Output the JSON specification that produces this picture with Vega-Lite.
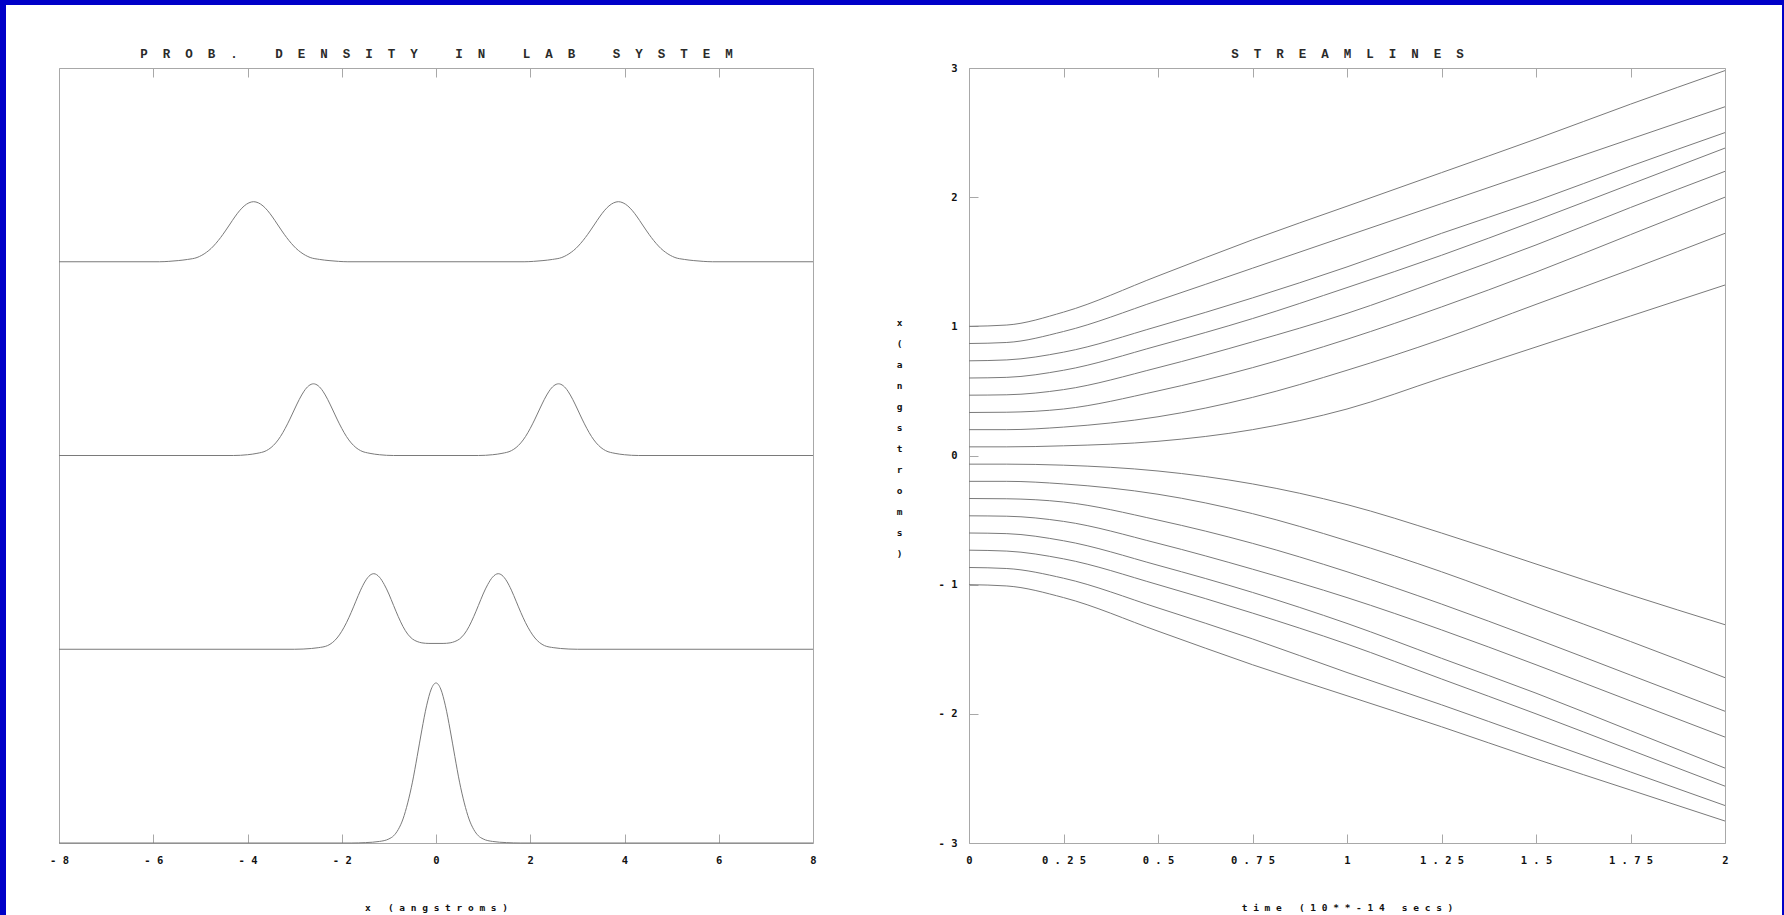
{
  "$schema": "https://vega.github.io/schema/vega-lite/v6.json",
  "width": 1776,
  "height": 910,
  "autosize": {"type": "none"},
  "padding": {"left": 6, "top": 5, "right": 2, "bottom": 0},
  "background": "#0000C8",
  "config": {
    "view": {"fill": "white", "stroke": null},
    "axis": {
      "grid": false,
      "domainColor": "#a8a8a8",
      "tickColor": "#a8a8a8",
      "tickSize": -9,
      "labelFont": "DejaVu Sans Mono",
      "labelFontSize": 10.5,
      "labelFontWeight": "bold",
      "labelColor": "#111111",
      "titleFont": "DejaVu Sans Mono",
      "titleFontSize": 9.5,
      "titleFontWeight": "bold",
      "titleColor": "#111111",
      "labelFlush": false,
      "labelOverlap": false,
      "labelBound": false
    }
  },
  "datasets": {
    "dens": [
      {"c": "A", "x": [-8,-1.8,-1.5,-1.2,-1.0,-0.9,-0.8,-0.7,-0.6,-0.5,-0.4,-0.3,-0.2,-0.1,0,0.1,0.2,0.3,0.4,0.5,0.6,0.7,0.8,0.9,1.0,1.2,1.5,1.8,8],
                 "y": [0,0,0.002,0.008,0.021,0.037,0.07,0.124,0.207,0.314,0.446,0.584,0.708,0.795,0.826,0.795,0.708,0.584,0.446,0.314,0.207,0.124,0.07,0.037,0.021,0.008,0.002,0,0]},
      {"c": "B", "x": [-8,-3.0,-2.64,-2.5,-2.3,-2.1,-1.9,-1.8,-1.7,-1.6,-1.5,-1.4,-1.32,-1.2,-1.1,-1.0,-0.9,-0.8,-0.7,-0.6,-0.5,-0.4,-0.3,-0.15,0,0.15,0.3,0.4,0.5,0.6,0.7,0.8,0.9,1.0,1.1,1.2,1.32,1.4,1.5,1.6,1.7,1.8,1.9,2.1,2.3,2.5,2.64,3.0,8],
                 "y": [1,1,1.004,1.008,1.019,1.058,1.137,1.19,1.248,1.305,1.352,1.382,1.39,1.372,1.335,1.285,1.226,1.168,1.117,1.078,1.053,1.04,1.033,1.03,1.03,1.03,1.033,1.04,1.053,1.078,1.117,1.168,1.226,1.285,1.335,1.372,1.39,1.382,1.352,1.305,1.248,1.19,1.137,1.058,1.019,1.008,1.004,1,1]},
      {"c": "C", "x": [-8,-4.3,-4.0,-3.8,-3.6,-3.5,-3.4,-3.3,-3.2,-3.1,-3.0,-2.9,-2.8,-2.7,-2.6,-2.5,-2.4,-2.3,-2.2,-2.1,-2.0,-1.9,-1.8,-1.7,-1.6,-1.4,-1.2,-0.9,0.9,1.2,1.4,1.6,1.7,1.8,1.9,2.0,2.1,2.2,2.3,2.4,2.5,2.6,2.7,2.8,2.9,3.0,3.1,3.2,3.3,3.4,3.5,3.6,3.8,4.0,4.3,8],
                 "y": [2,2,2.004,2.011,2.025,2.041,2.065,2.098,2.14,2.188,2.24,2.29,2.332,2.36,2.37,2.36,2.332,2.29,2.24,2.188,2.14,2.098,2.065,2.041,2.025,2.011,2.004,2,2,2.004,2.011,2.025,2.041,2.065,2.098,2.14,2.188,2.24,2.29,2.332,2.36,2.37,2.36,2.332,2.29,2.24,2.188,2.14,2.098,2.065,2.041,2.025,2.011,2.004,2,2]},
      {"c": "D", "x": [-8,-5.87,-5.67,-5.47,-5.27,-5.07,-4.87,-4.77,-4.67,-4.57,-4.47,-4.37,-4.27,-4.17,-4.07,-3.97,-3.87,-3.77,-3.67,-3.57,-3.47,-3.37,-3.27,-3.17,-3.07,-2.97,-2.87,-2.67,-2.47,-2.27,-2.07,-1.87,1.87,2.07,2.27,2.47,2.67,2.87,2.97,3.07,3.17,3.27,3.37,3.47,3.57,3.67,3.77,3.87,3.97,4.07,4.17,4.27,4.37,4.47,4.57,4.67,4.77,4.87,5.07,5.27,5.47,5.67,5.87,8],
                 "y": [3,3,3.002,3.006,3.012,3.022,3.049,3.069,3.095,3.125,3.159,3.195,3.231,3.263,3.288,3.304,3.31,3.304,3.288,3.263,3.231,3.195,3.159,3.125,3.095,3.069,3.049,3.022,3.012,3.006,3.002,3,3,3.002,3.006,3.012,3.022,3.049,3.069,3.095,3.125,3.159,3.195,3.231,3.263,3.288,3.304,3.31,3.304,3.288,3.263,3.231,3.195,3.159,3.125,3.095,3.069,3.049,3.022,3.012,3.006,3.002,3,3]}
    ],
    "stream": [
      {"l": "U1", "t": [0,0.1,0.25,0.5,0.75,1,1.25,1.5,1.75,2], "x": [1.0,1.01,1.11,1.39,1.67,1.93,2.19,2.45,2.72,2.98]},
      {"l": "U2", "t": [0,0.1,0.25,0.5,0.75,1,1.25,1.5,1.75,2], "x": [0.867,0.875,0.96,1.2,1.45,1.7,1.95,2.2,2.45,2.7]},
      {"l": "U3", "t": [0,0.1,0.25,0.5,0.75,1,1.25,1.5,1.75,2], "x": [0.733,0.74,0.8,1.0,1.22,1.46,1.72,1.97,2.24,2.5]},
      {"l": "U4", "t": [0,0.1,0.25,0.5,0.75,1,1.25,1.5,1.75,2], "x": [0.6,0.605,0.66,0.85,1.06,1.3,1.55,1.82,2.1,2.38]},
      {"l": "U5", "t": [0,0.1,0.25,0.5,0.75,1,1.25,1.5,1.75,2], "x": [0.467,0.47,0.51,0.68,0.88,1.1,1.36,1.63,1.92,2.2]},
      {"l": "U6", "t": [0,0.1,0.25,0.5,0.75,1,1.25,1.5,1.75,2], "x": [0.333,0.335,0.36,0.5,0.68,0.9,1.15,1.42,1.71,2.0]},
      {"l": "U7", "t": [0,0.1,0.25,0.5,0.75,1,1.25,1.5,1.75,2], "x": [0.2,0.2,0.22,0.3,0.45,0.66,0.9,1.17,1.44,1.72]},
      {"l": "U8", "t": [0,0.1,0.25,0.5,0.75,1,1.25,1.5,1.75,2], "x": [0.067,0.067,0.075,0.11,0.2,0.36,0.6,0.84,1.08,1.32]},
      {"l": "B1", "t": [0,0.1,0.25,0.5,0.75,1,1.25,1.5,1.75,2], "x": [-0.067,-0.067,-0.075,-0.12,-0.22,-0.38,-0.6,-0.84,-1.08,-1.31]},
      {"l": "B2", "t": [0,0.1,0.25,0.5,0.75,1,1.25,1.5,1.75,2], "x": [-0.2,-0.2,-0.22,-0.3,-0.45,-0.66,-0.9,-1.17,-1.44,-1.72]},
      {"l": "B3", "t": [0,0.1,0.25,0.5,0.75,1,1.25,1.5,1.75,2], "x": [-0.333,-0.335,-0.36,-0.5,-0.68,-0.9,-1.15,-1.42,-1.70,-1.98]},
      {"l": "B4", "t": [0,0.1,0.25,0.5,0.75,1,1.25,1.5,1.75,2], "x": [-0.467,-0.47,-0.51,-0.68,-0.88,-1.1,-1.35,-1.62,-1.90,-2.18]},
      {"l": "B5", "t": [0,0.1,0.25,0.5,0.75,1,1.25,1.5,1.75,2], "x": [-0.6,-0.605,-0.66,-0.85,-1.06,-1.3,-1.57,-1.84,-2.13,-2.42]},
      {"l": "B6", "t": [0,0.1,0.25,0.5,0.75,1,1.25,1.5,1.75,2], "x": [-0.733,-0.74,-0.8,-1.0,-1.22,-1.46,-1.73,-2.0,-2.28,-2.56]},
      {"l": "B7", "t": [0,0.1,0.25,0.5,0.75,1,1.25,1.5,1.75,2], "x": [-0.867,-0.875,-0.95,-1.18,-1.42,-1.68,-1.93,-2.19,-2.45,-2.71]},
      {"l": "B8", "t": [0,0.1,0.25,0.5,0.75,1,1.25,1.5,1.75,2], "x": [-1.0,-1.01,-1.1,-1.36,-1.62,-1.86,-2.1,-2.35,-2.59,-2.83]}
    ],
    "dummy": [{"a": 0, "b": 0}]
  },
  "layer": [
    {
      "data": {"name": "dens"},
      "transform": [{"flatten": ["x", "y"]}],
      "mark": {"type": "line", "color": "#7a7a7a", "strokeWidth": 1, "interpolate": "monotone"},
      "encoding": {
        "x": {"field": "x", "type": "quantitative",
              "scale": {"domain": [-8, 8], "range": [53, 807], "nice": false, "zero": false},
              "axis": {"orient": "bottom", "offset": -72, "values": [-8,-6,-4,-2,0,2,4,6,8],
                       "labelExpr": "join(split(toString(datum.value), ''), ' ')", "labelPadding": 26, "labelBaseline": "middle",
                       "title": "x\u00a0\u00a0\u00a0(\u00a0a\u00a0n\u00a0g\u00a0s\u00a0t\u00a0r\u00a0o\u00a0m\u00a0s\u00a0)",
                       "titleY": 64, "titleBaseline": "middle"}},
        "y": {"field": "y", "type": "quantitative",
              "scale": {"domain": [0, 4], "range": [838, 63], "nice": false, "zero": false},
              "axis": {"orient": "left", "offset": -53, "ticks": false, "labels": false, "title": null}},
        "detail": {"field": "c"}
      }
    },
    {
      "data": {"name": "dummy"},
      "mark": {"type": "point", "opacity": 0},
      "encoding": {
        "x": {"field": "a", "type": "quantitative",
              "scale": {"domain": [-8, 8], "range": [53, 807], "nice": false, "zero": false},
              "axis": {"orient": "top", "offset": -63, "values": [-8,-6,-4,-2,0,2,4,6,8], "labels": false,
                       "title": "P\u00a0\u00a0R\u00a0\u00a0O\u00a0\u00a0B\u00a0\u00a0.\u00a0\u00a0\u00a0\u00a0\u00a0D\u00a0\u00a0E\u00a0\u00a0N\u00a0\u00a0S\u00a0\u00a0I\u00a0\u00a0T\u00a0\u00a0Y\u00a0\u00a0\u00a0\u00a0\u00a0I\u00a0\u00a0N\u00a0\u00a0\u00a0\u00a0\u00a0L\u00a0\u00a0A\u00a0\u00a0B\u00a0\u00a0\u00a0\u00a0\u00a0S\u00a0\u00a0Y\u00a0\u00a0S\u00a0\u00a0T\u00a0\u00a0E\u00a0\u00a0M",
                       "titleFont": "Liberation Mono", "titleFontSize": 12.5, "titleFontWeight": "bold", "titleColor": "#2a2a2a",
                       "titleY": -14.5, "titleBaseline": "middle"}},
        "y": {"field": "b", "type": "quantitative",
              "scale": {"domain": [0, 4], "range": [838, 63], "nice": false, "zero": false},
              "axis": {"orient": "right", "offset": -969, "ticks": false, "labels": false, "title": null}}
      }
    },
    {
      "data": {"name": "stream"},
      "transform": [{"flatten": ["t", "x"]}],
      "mark": {"type": "line", "color": "#7a7a7a", "strokeWidth": 1, "interpolate": "monotone"},
      "encoding": {
        "x": {"field": "t", "type": "quantitative",
              "scale": {"domain": [0, 2], "range": [963, 1719], "nice": false, "zero": false},
              "axis": {"orient": "bottom", "offset": -72, "values": [0,0.25,0.5,0.75,1,1.25,1.5,1.75,2],
                       "labelExpr": "join(split(toString(datum.value), ''), ' ')", "labelPadding": 26, "labelBaseline": "middle",
                       "title": "t\u00a0i\u00a0m\u00a0e\u00a0\u00a0\u00a0(\u00a01\u00a00\u00a0*\u00a0*\u00a0-\u00a01\u00a04\u00a0\u00a0\u00a0s\u00a0e\u00a0c\u00a0s\u00a0)",
                       "titleY": 64, "titleBaseline": "middle"}},
        "y": {"field": "x", "type": "quantitative",
              "scale": {"domain": [-3, 3], "range": [838, 63], "nice": false, "zero": false},
              "axis": {"orient": "left", "offset": -963, "values": [-3,-2,-1,0,1,2,3],
                       "labelExpr": "join(split(toString(datum.value), ''), ' ')", "labelPadding": 21, "labelBaseline": "middle",
                       "title": ["x", "\u00a0", "(", "a", "n", "g", "s", "t", "r", "o", "m", "s", ")"],
                       "titleAngle": 0, "titleX": -70, "titleY": 317, "titleAlign": "center", "titleBaseline": "middle",
                       "titleLineHeight": 21}},
        "detail": {"field": "l"}
      }
    },
    {
      "data": {"name": "dummy"},
      "mark": {"type": "point", "opacity": 0},
      "encoding": {
        "x": {"field": "a", "type": "quantitative",
              "scale": {"domain": [0, 2], "range": [963, 1719], "nice": false, "zero": false},
              "axis": {"orient": "top", "offset": -63, "values": [0,0.25,0.5,0.75,1,1.25,1.5,1.75,2], "labels": false,
                       "title": "S\u00a0\u00a0T\u00a0\u00a0R\u00a0\u00a0E\u00a0\u00a0A\u00a0\u00a0M\u00a0\u00a0L\u00a0\u00a0I\u00a0\u00a0N\u00a0\u00a0E\u00a0\u00a0S",
                       "titleFont": "Liberation Mono", "titleFontSize": 12.5, "titleFontWeight": "bold", "titleColor": "#2a2a2a",
                       "titleY": -14.5, "titleBaseline": "middle"}},
        "y": {"field": "b", "type": "quantitative",
              "scale": {"domain": [-3, 3], "range": [838, 63], "nice": false, "zero": false},
              "axis": {"orient": "right", "offset": -57, "ticks": false, "labels": false, "title": null}}
      }
    }
  ],
  "resolve": {
    "scale": {"x": "independent", "y": "independent"},
    "axis": {"x": "independent", "y": "independent"}
  }
}
